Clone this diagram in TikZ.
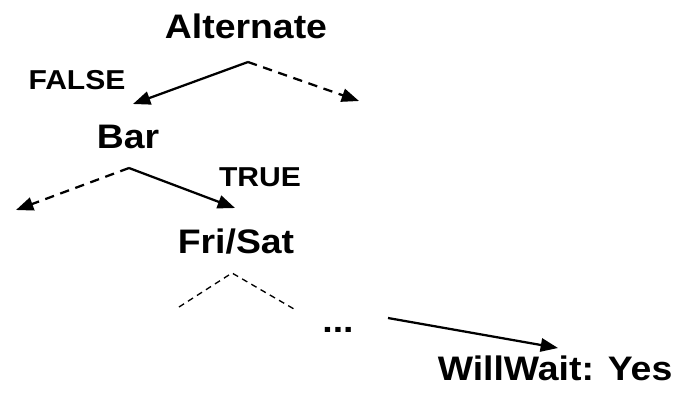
\documentclass[tikz,border=0pt]{standalone}
\usepackage{fontspec}
\setmainfont{Liberation Sans}[FakeStretch=1.1]
\usetikzlibrary{positioning}
\usetikzlibrary{arrows.meta}

\begin{document}
\begin{tikzpicture}[x=0.75pt, y=-0.75pt,
    main/.style = {font=\bfseries\fontsize{25.5}{30}\selectfont, inner sep=0pt, anchor=base},
    lbl/.style = {font=\bfseries\fontsize{20.5}{24}\selectfont, inner sep=0pt, anchor=base},
    edge/.style = {line width=1.7pt, -{Triangle[length=13pt, width=10pt]}},
    other/.style = {edge, dash pattern=on 7pt off 5pt},
    rest/.style = {line width=1pt, dash pattern=on 4.5pt off 3.5pt}]
    \useasboundingbox (0,0) rectangle (673,400);

    \node[main] (alt) at (246,38) {Alternate};
    \node[lbl] (false) at (77,89) {FALSE};
    \node[main] (bar) at (128,148) {Bar};
    \node[lbl] (true) at (260,186) {TRUE};
    \node[main] (fri) at (236,253) {Fri/Sat};
    \node[main] (dots) at (338,332) {...};
    \node[main] (yes) at (555,380) {WillWait: Yes};

    % branch points and open ends
    \coordinate (altfork) at (248,62);
    \coordinate (altno) at (359,101);
    \coordinate (barin) at (133,104);
    \coordinate (barfork) at (129,168);
    \coordinate (barno) at (16,210);
    \coordinate (friin) at (235,208);
    \coordinate (frifork) at (232,273);
    \coordinate (frileft) at (179,307);
    \coordinate (friright) at (294,309);
    \coordinate (dotsout) at (388,318);
    \coordinate (yesin) at (558,348);

    \draw[edge] (altfork) -- (barin);
    \draw[other] (altfork) -- (altno);
    \draw[other] (barfork) -- (barno);
    \draw[edge] (barfork) -- (friin);
    \draw[rest] (frileft) -- (frifork) -- (friright);
    \draw[edge] (dotsout) -- (yesin);
\end{tikzpicture}
\end{document}
